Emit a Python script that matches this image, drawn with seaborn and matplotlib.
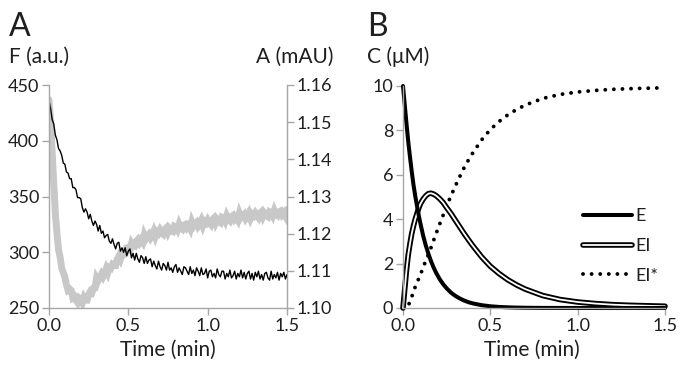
import numpy as np
import pandas as pd
import matplotlib
matplotlib.use("Agg")
import matplotlib.pyplot as plt
from matplotlib.lines import Line2D
from matplotlib.ticker import FormatStrFormatter
import seaborn as sns

# ---------------- data ----------------
# Panel A: sampled every 0.01 min from 0 to 1.5 min
time_a = np.linspace(0.0, 1.5, 151)

fluorescence = [
    436, 429, 419, 415, 405, 401, 393, 391, 387, 380,
    379, 372, 371, 366, 366, 358, 358, 356, 349, 349,
    348, 340, 336, 339, 336, 330, 334, 328, 324, 328,
    325, 319, 324, 317, 319, 313, 315, 316, 310, 308,
    312, 307, 303, 308, 309, 301, 304, 300, 304, 297,
    301, 303, 295, 299, 293, 299, 294, 291, 297, 295,
    290, 296, 290, 293, 294, 287, 292, 288, 285, 292,
    287, 284, 290, 288, 284, 291, 284, 286, 282, 287,
    289, 282, 286, 283, 280, 287, 286, 283, 280, 287,
    281, 284, 279, 286, 283, 279, 286, 280, 281, 285,
    277, 283, 284, 278, 281, 277, 285, 280, 278, 283,
    283, 276, 281, 278, 284, 277, 279, 283, 276, 281,
    278, 284, 277, 282, 276, 281, 283, 276, 281, 275,
    282, 278, 283, 276, 280, 275, 281, 282, 277, 275,
    283, 276, 280, 277, 282, 275, 281, 278, 282, 276, 280,
]

absorbance = [
    1.1560, 1.1502, 1.1418, 1.1333, 1.1253, 1.1203, 1.1157, 1.1137, 1.1107, 1.1096,
    1.1083, 1.1063, 1.1048, 1.1051, 1.1047, 1.1028, 1.1031, 1.1021, 1.1015, 1.1026,
    1.1022, 1.1014, 1.1028, 1.1021, 1.1021, 1.1036, 1.1044, 1.1041, 1.1053, 1.1054,
    1.1081, 1.1074, 1.1083, 1.1091, 1.1084, 1.1093, 1.1105, 1.1095, 1.1109, 1.1107,
    1.1117, 1.1114, 1.1114, 1.1131, 1.1139, 1.1131, 1.1144, 1.1143, 1.1145, 1.1162,
    1.1163, 1.1158, 1.1174, 1.1167, 1.1166, 1.1179, 1.1184, 1.1176, 1.1183, 1.1177,
    1.1196, 1.1186, 1.1193, 1.1198, 1.1189, 1.1196, 1.1206, 1.1193, 1.1205, 1.1201,
    1.1210, 1.1203, 1.1199, 1.1212, 1.1216, 1.1204, 1.1213, 1.1208, 1.1206, 1.1220,
    1.1218, 1.1211, 1.1225, 1.1215, 1.1212, 1.1223, 1.1225, 1.1216, 1.1221, 1.1213,
    1.1231, 1.1220, 1.1226, 1.1230, 1.1220, 1.1226, 1.1235, 1.1222, 1.1233, 1.1229,
    1.1237, 1.1230, 1.1225, 1.1238, 1.1242, 1.1229, 1.1238, 1.1233, 1.1230, 1.1244,
    1.1242, 1.1234, 1.1248, 1.1239, 1.1235, 1.1246, 1.1249, 1.1239, 1.1244, 1.1237,
    1.1254, 1.1243, 1.1248, 1.1252, 1.1241, 1.1247, 1.1255, 1.1242, 1.1252, 1.1248,
    1.1255, 1.1248, 1.1243, 1.1255, 1.1259, 1.1246, 1.1254, 1.1249, 1.1246, 1.1259,
    1.1257, 1.1249, 1.1262, 1.1252, 1.1249, 1.1259, 1.1261, 1.1251, 1.1256, 1.1248, 1.1265,
]

# Panel B
time_b = [0, 0.01, 0.02, 0.03, 0.04, 0.05, 0.06, 0.07, 0.08, 0.09,
          0.10, 0.115, 0.13, 0.145, 0.16, 0.175, 0.19, 0.21, 0.23, 0.25,
          0.275, 0.3, 0.325, 0.35, 0.375, 0.4, 0.45, 0.5, 0.55, 0.6,
          0.65, 0.7, 0.8, 0.9, 1.0, 1.1, 1.2, 1.3, 1.4, 1.5]
conc_E = [10, 9.15, 8.3, 7.5, 6.8, 6.15, 5.55, 5.05, 4.6, 4.18,
          3.8, 3.27, 2.83, 2.45, 2.12, 1.83, 1.58, 1.30, 1.07, 0.885,
          0.69, 0.545, 0.43, 0.335, 0.26, 0.206, 0.127, 0.078, 0.048, 0.03,
          0.018, 0.011, 0.004, 0.002, 0.001, 0, 0, 0, 0, 0]
conc_EI = [0, 0.85, 1.7, 2.4, 2.9, 3.35, 3.7, 4.0, 4.25, 4.5,
           4.7, 4.9, 5.05, 5.15, 5.17, 5.13, 5.06, 4.92, 4.75, 4.52,
           4.25, 3.95, 3.65, 3.35, 3.07, 2.8, 2.3, 1.88, 1.55, 1.27,
           1.04, 0.85, 0.56, 0.38, 0.27, 0.2, 0.15, 0.12, 0.1, 0.08]
conc_EIstar = [0, 0, 0, 0.1, 0.3, 0.5, 0.75, 0.95, 1.15, 1.32,
               1.5, 1.83, 2.12, 2.4, 2.71, 3.04, 3.36, 3.78, 4.18, 4.6,
               5.06, 5.5, 5.92, 6.32, 6.67, 6.99, 7.57, 8.04, 8.4, 8.7,
               8.94, 9.14, 9.44, 9.62, 9.73, 9.8, 9.85, 9.88, 9.9, 9.92]

xticks = [0.0, 0.5, 1.0, 1.5]
f_ticks = [250, 300, 350, 400, 450]
a_ticks = [1.10, 1.11, 1.12, 1.13, 1.14, 1.15, 1.16]
c_ticks = [0, 2, 4, 6, 8, 10]
legend_labels = ["E", "EI", "EI*"]

# ---------------- style ----------------
sns.set_style("white")
plt.rcParams["font.family"] = ["Lato", "DejaVu Sans"]

W, H = 679, 366
fig = plt.figure(figsize=(W / 100, H / 100), dpi=100)


def px_axes(l, t, r, b):
    return fig.add_axes([l / W, 1 - b / H, (r - l) / W, (b - t) / H])


GRAY_LINE = "#c8c8c8"
SPINE = "#a6a6a6"
TXT = "#1f1f1f"
TICK_FS = 13

# ---------------- panel A ----------------
axA = px_axes(49, 85, 287, 308)
axA2 = axA.twinx()

dfA = pd.DataFrame({"t": time_a, "F": fluorescence, "A": absorbance})
sns.lineplot(data=dfA, x="t", y="A", ax=axA2, color=GRAY_LINE, lw=5,
             estimator=None, solid_joinstyle="miter")
sns.lineplot(data=dfA, x="t", y="F", ax=axA, color="black", lw=1.0,
             estimator=None)
axA.set_zorder(axA2.get_zorder() + 1)
axA.patch.set_visible(False)

axA.set_xlim(0, 1.5)
axA.set_ylim(250, 450)
axA2.set_ylim(1.10, 1.16)
axA.set_xticks(xticks)
axA.set_yticks(f_ticks)
axA2.set_yticks(a_ticks)
axA.xaxis.set_major_formatter(FormatStrFormatter("%.1f"))
axA2.yaxis.set_major_formatter(FormatStrFormatter("%.2f"))
for a in (axA, axA2):
    a.set_xlabel("")
    a.set_ylabel("")
    for s in a.spines.values():
        s.set_color(SPINE)
        s.set_linewidth(1.0)
axA.spines["top"].set_visible(False)
axA.spines["right"].set_visible(False)
axA2.spines["top"].set_visible(False)
axA2.spines["left"].set_visible(False)
axA2.spines["bottom"].set_visible(False)
axA.tick_params(axis="both", direction="out", length=5, width=1, color=SPINE,
                labelsize=TICK_FS, labelcolor=TXT, pad=2, left=True, bottom=True)
axA2.tick_params(axis="y", direction="out", length=5, width=1, color=SPINE,
                 labelsize=TICK_FS, labelcolor=TXT, pad=2, right=True)

# ---------------- panel B ----------------
axB = px_axes(403, 86, 665, 308)
dfB = pd.DataFrame({"t": time_b, "E": conc_E, "EI": conc_EI, "EIs": conc_EIstar})
sns.lineplot(data=dfB, x="t", y="EIs", ax=axB, color="black", lw=2.8,
             estimator=None, linestyle=(0, (0.01, 2.2)),
             dash_capstyle="round", clip_on=False)
sns.lineplot(data=dfB, x="t", y="EI", ax=axB, color="black", lw=4.0,
             estimator=None, solid_capstyle="round", clip_on=False)
sns.lineplot(data=dfB, x="t", y="EI", ax=axB, color="white", lw=1.3,
             estimator=None, solid_capstyle="round", clip_on=False)
sns.lineplot(data=dfB, x="t", y="E", ax=axB, color="black", lw=2.9,
             estimator=None, clip_on=False)
axB.set_xlim(0, 1.5)
axB.set_ylim(0, 10)
axB.set_xticks(xticks)
axB.set_yticks(c_ticks)
axB.xaxis.set_major_formatter(FormatStrFormatter("%.1f"))
axB.set_xlabel("")
axB.set_ylabel("")
for k, s in axB.spines.items():
    s.set_color(SPINE)
    s.set_linewidth(1.0)
axB.spines["top"].set_visible(False)
axB.spines["right"].set_visible(False)
axB.tick_params(axis="both", direction="out", length=5, width=1, color=SPINE,
                labelsize=TICK_FS, labelcolor=TXT, pad=2, left=True, bottom=True)

h_E = Line2D([], [], color="black", lw=2.9, solid_capstyle="round")
h_EI = (Line2D([], [], color="black", lw=4.0, solid_capstyle="round"),
        Line2D([], [], color="white", lw=1.3, solid_capstyle="round"))
h_EIs = Line2D([], [], color="black", lw=2.8, linestyle=(0, (0.01, 2.2)),
               dash_capstyle="round")
leg = axB.legend([h_E, h_EI, h_EIs], legend_labels, loc="center left",
                 bbox_to_anchor=(583 / W, 1 - 246 / H), bbox_transform=fig.transFigure,
                 frameon=False, fontsize=13, handlelength=2.7, handletextpad=0.2,
                 labelspacing=0.75, borderpad=0, borderaxespad=0)
for t in leg.get_texts():
    t.set_color(TXT)

# ---------------- texts ----------------
def ftext(x, y, s, size, ha="left"):
    fig.text(x / W, 1 - y / H, s, fontsize=size, ha=ha, va="center", color=TXT)

ftext(9, 27, "A", 23)
ftext(367, 27, "B", 23)
ftext(9, 57, "F (a.u.)", 15)
ftext(333, 57, "A (mAU)", 15, ha="right")
ftext(367, 57, "C (\u03bcM)", 15)
ftext(168, 350, "Time (min)", 15, ha="center")
ftext(532, 350, "Time (min)", 15, ha="center")

fig.savefig("out.png", dpi=100)
